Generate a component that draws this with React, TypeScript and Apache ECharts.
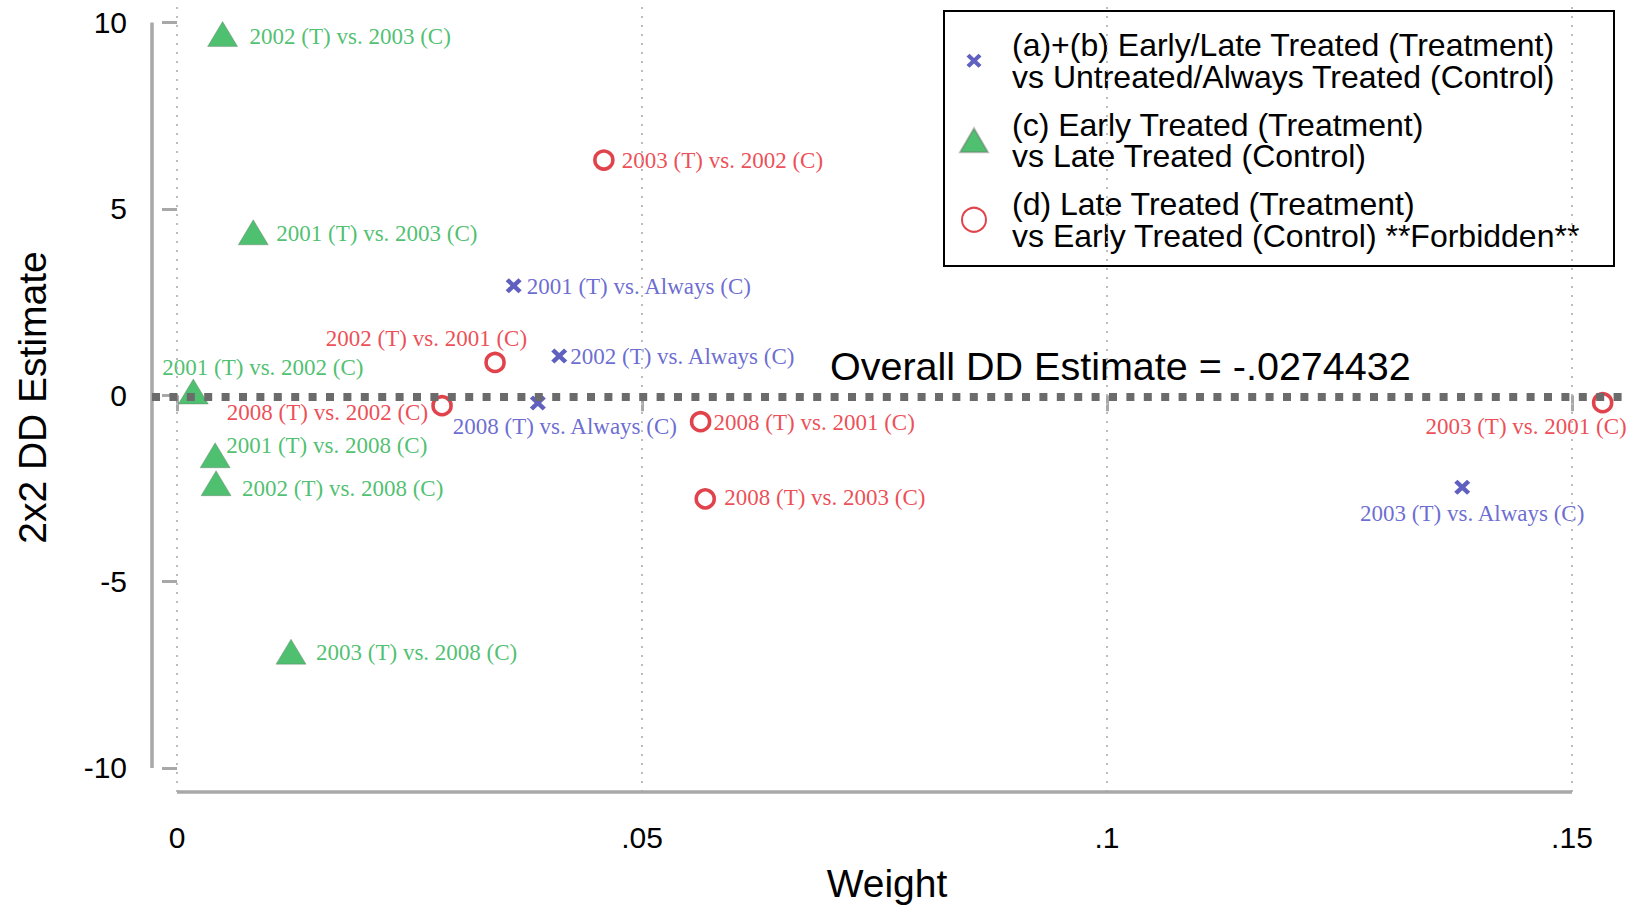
import React, { useEffect, useRef } from "react";
import * as echarts from "echarts";

// ---------- data ----------
const xTicks = [0, 0.05, 0.1, 0.15];
const yTicks = [-10, -5, 0, 5, 10];
const overallEstimate = -0.0274432;

const seriesNames = [
  "(a)+(b) Early/Late Treated (Treatment)\nvs Untreated/Always Treated (Control)",
  "(c) Early Treated (Treatment)\nvs Late Treated (Control)",
  "(d) Late Treated (Treatment)\nvs Early Treated (Control) **Forbidden**",
];

const blueLabels = [
  "2001 (T) vs. Always (C)",
  "2002 (T) vs. Always (C)",
  "2008 (T) vs. Always (C)",
  "2003 (T) vs. Always (C)",
];
const blueWeights = [0.0362, 0.0411, 0.0388, 0.1382];
const blueEstimates = [2.94, 1.05, -0.21, -2.47];

const greenLabels = [
  "2002 (T) vs. 2003 (C)",
  "2001 (T) vs. 2003 (C)",
  "2001 (T) vs. 2002 (C)",
  "2001 (T) vs. 2008 (C)",
  "2002 (T) vs. 2008 (C)",
  "2003 (T) vs. 2008 (C)",
];
const greenWeights = [0.0049, 0.0082, 0.00175, 0.0041, 0.0042, 0.01226];
const greenEstimates = [9.69, 4.37, 0.1, -1.61, -2.36, -6.88];

const redLabels = [
  "2003 (T) vs. 2002 (C)",
  "2002 (T) vs. 2001 (C)",
  "2008 (T) vs. 2002 (C)",
  "2008 (T) vs. 2001 (C)",
  "2008 (T) vs. 2003 (C)",
  "2003 (T) vs. 2001 (C)",
];
const redWeights = [0.0459, 0.0342, 0.0285, 0.0563, 0.0568, 0.1533];
const redEstimates = [6.31, 0.88, -0.28, -0.71, -2.78, -0.2];

// ---------- style ----------
const BLUE = "#4646C6";
const BLUE_MARK = "#3838B0";
const GREEN = "#22B04B";
const RED = "#E8202A";
const RED_MARK = "#D8141E";
const AXIS_GRAY = "#A8A8A8";
const SANS = '"Liberation Sans", Arial, sans-serif';
const SERIF = '"Liberation Serif", "DejaVu Serif", serif';

// label placement (align, dx, dy relative to marker centre), per point
type Place = { align: "left" | "right" | "center"; dx: number; dy: number };
const bluePlace: Place[] = [
  { align: "left", dx: 13, dy: 1 },
  { align: "left", dx: 11, dy: 0 },
  { align: "center", dx: 27, dy: 23 },
  { align: "center", dx: 10, dy: 26 },
];
const greenPlace: Place[] = [
  { align: "left", dx: 27, dy: 2 },
  { align: "left", dx: 23, dy: 1 },
  { align: "left", dx: -31, dy: -24 },
  { align: "left", dx: 11, dy: -10 },
  { align: "left", dx: 26, dy: 5 },
  { align: "left", dx: 25, dy: 1 },
];
const redPlace: Place[] = [
  { align: "left", dx: 18, dy: 0 },
  { align: "right", dx: 32, dy: -24 },
  { align: "right", dx: -14, dy: 7 },
  { align: "left", dx: 13, dy: 1 },
  { align: "left", dx: 19, dy: -1 },
  { align: "right", dx: 24, dy: 24 },
];

const X_SYMBOL =
  "path://M0,2L2,0L5,3L8,0L10,2L7,5L10,8L8,10L5,7L2,10L0,8L3,5Z";
const X_LEGEND_ICON =
  "path://M0,0M28,24M6.5,7.8L9.5,5L14,9.2L18.5,5L21.5,7.8L17,12L21.5,16.2L18.5,19L14,14.8L9.5,19L6.5,16.2L11,12Z";

const X_MIN = -0.00269;
const X_MAX = 0.15538;
const Y_MIN = -10.644;
const Y_MAX = 10.523;

function buildData(
  xs: number[],
  ys: number[],
  labels: string[],
  places: Place[],
  color: string
) {
  return xs.map((x, i) => ({
    value: [x, ys[i]],
    name: labels[i],
    label: {
      show: true,
      formatter: labels[i],
      position: "inside",
      align: places[i].align,
      verticalAlign: "middle",
      offset: [places[i].dx, places[i].dy],
      color,
      fontFamily: SERIF,
      fontSize: 23,
    },
  }));
}

const fmtX = (v: number) =>
  v === 0 ? "0" : String(Number(v.toFixed(4))).replace(/^(-?)0\./, "$1.");

export default function App() {
  const ref = useRef<HTMLDivElement>(null);

  useEffect(() => {
    if (!ref.current) return;
    const chart = echarts.init(ref.current, undefined, { renderer: "svg" });

    const option: any = {
      animation: false,
      backgroundColor: "#ffffff",
      textStyle: { fontFamily: SANS },
      grid: { left: 152, right: 13, top: 3, bottom: 116, containLabel: false },
      xAxis: {
        type: "value",
        min: X_MIN,
        max: X_MAX,
        axisLine: { show: false },
        splitLine: { show: false },
        axisTick: {
          show: true,
          length: 16,
          customValues: xTicks,
          lineStyle: { color: AXIS_GRAY, width: 3 },
        },
        axisLabel: {
          customValues: xTicks,
          formatter: fmtX,
          fontSize: 30,
          color: "#000",
          fontFamily: SANS,
          margin: 30,
        },
        name: "Weight",
        nameLocation: "middle",
        nameGap: 72,
        nameTextStyle: { fontSize: 39, color: "#000", fontFamily: SANS },
      },
      yAxis: {
        type: "value",
        min: Y_MIN,
        max: Y_MAX,
        axisLine: { show: false },
        splitLine: { show: false },
        axisTick: {
          show: true,
          length: 15,
          customValues: yTicks,
          lineStyle: { color: AXIS_GRAY, width: 3 },
        },
        axisLabel: {
          customValues: yTicks,
          formatter: (v: number) => String(v),
          fontSize: 30,
          color: "#000",
          fontFamily: SANS,
          margin: 25,
        },
        name: "2x2 DD Estimate",
        nameLocation: "middle",
        nameGap: 100,
        nameTextStyle: { fontSize: 39, color: "#000", fontFamily: SANS },
      },
      legend: {
        data: [
          { name: seriesNames[0], icon: X_LEGEND_ICON },
          { name: seriesNames[1] },
          { name: seriesNames[2] },
        ],
        orient: "vertical",
        left: 959,
        top: 29,
        padding: 0,
        itemGap: 16,
        itemWidth: 28,
        itemHeight: 24,
        selectedMode: false,
        align: "left",
        textStyle: {
          fontSize: 32,
          lineHeight: 31.5,
          color: "#000",
          fontFamily: SANS,
          padding: [0, 0, 0, 19],
        },
      },
      graphic: [
        {
          type: "rect",
          shape: { x: 944, y: 11, width: 670, height: 255 },
          style: { fill: "none", stroke: "#000", lineWidth: 2 },
          z: 10,
        },
        {
          type: "text",
          x: 830,
          y: 366,
          style: {
            text: "Overall DD Estimate = " + String(overallEstimate).replace(/^(-?)0\./, "$1."),
            font: '39.5px "Liberation Sans", Arial, sans-serif',
            fill: "#000",
            align: "left",
            verticalAlign: "middle",
          },
          z: 10,
        },
      ],
      series: [
        {
          type: "scatter",
          name: "__frame",
          data: [],
          clip: false,
          z: 1,
          silent: true,
          markLine: {
            silent: true,
            symbol: ["none", "none"],
            label: { show: false },
            animation: false,
            data: [
              // vertical dotted gridlines at x ticks
              ...xTicks.map((v) => ({
                xAxis: v,
                lineStyle: { type: [2, 7], color: "#BDBDBD", width: 2 },
              })),
              // y axis line (spans the tick range)
              [
                { coord: [X_MIN, yTicks[yTicks.length - 1]], lineStyle: { color: AXIS_GRAY, width: 3.5, type: "solid" } },
                { coord: [X_MIN, yTicks[0]] },
              ],
              // x axis line (spans the tick range)
              [
                { coord: [xTicks[0], Y_MIN], lineStyle: { color: AXIS_GRAY, width: 3.5, type: "solid" } },
                { coord: [xTicks[xTicks.length - 1], Y_MIN] },
              ],
              // overall DD estimate line
              {
                yAxis: overallEstimate,
                lineStyle: { type: [8, 9.4], color: "#6B6B6B", width: 8, cap: "butt" },
              },
            ],
          },
        },
        {
          type: "scatter",
          name: seriesNames[0],
          symbol: X_SYMBOL,
          symbolSize: [16, 15],
          itemStyle: { color: BLUE_MARK },
          z: 3,
          clip: false,
          data: buildData(blueWeights, blueEstimates, blueLabels, bluePlace, BLUE),
        },
        {
          type: "scatter",
          name: seriesNames[1],
          symbol: "triangle",
          symbolSize: [30, 25],
          itemStyle: { color: GREEN, borderColor: "rgba(110,110,110,0.55)", borderWidth: 0.8 },
          z: 3,
          clip: false,
          data: buildData(greenWeights, greenEstimates, greenLabels, greenPlace, GREEN),
        },
        {
          type: "scatter",
          name: seriesNames[2],
          symbol: "circle",
          symbolSize: 18,
          itemStyle: { color: "#ffffff", borderColor: RED_MARK, borderWidth: 3.6 },
          z: 3,
          clip: false,
          data: buildData(redWeights, redEstimates, redLabels, redPlace, RED),
        },
      ],
    };

    chart.setOption(option);
    return () => chart.dispose();
  }, []);

  return (
    <div
      ref={ref}
      style={{ position: "fixed", left: 0, top: 0, width: 1635, height: 908, background: "#fff" }}
    />
  );
}
